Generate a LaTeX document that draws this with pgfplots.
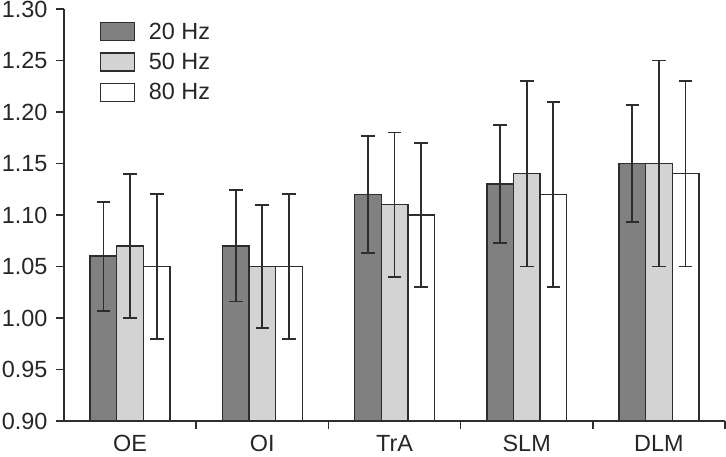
\documentclass[border=0pt]{standalone}
\usepackage{pgfplots}
\pgfplotsset{compat=1.18}
\usepackage{fontspec}
\setmainfont{Liberation Sans}
\definecolor{dark}{RGB}{128,128,128}
\definecolor{light}{RGB}{211,211,211}
\definecolor{edge}{RGB}{45,45,45}
\begin{document}
\begin{tikzpicture}
\begin{axis}[
  name=ax,
  scale only axis,
  width=661bp, height=412bp,
  xmin=0.5, xmax=5.5,
  ymin=0.9, ymax=1.3,
  ytick={0.90,0.95,...,1.31},
  xtick={1,2,3,4,5},
  xticklabels={OE,OI,TrA,SLM,DLM},
  minor xtick={1.5,2.5,3.5,4.5,5.5},
  major x tick style={draw=none},
  tick align=outside,
  major tick length=8bp,
  minor tick length=8bp,
  axis lines*=left,
  axis line style={edge, line width=1.4bp},
  every tick/.style={edge, line width=1.4bp},
  minor x tick style={edge, line width=1.4bp},
  /pgf/number format/assume math mode=true,
  /pgf/number format/.cd, fixed, fixed zerofill, precision=2, /pgfplots/.cd,
  tick label style={font=\fontsize{23.5}{26}\selectfont, text=black!85},
  yticklabel style={xshift=-5bp},
  xticklabel style={yshift=-3bp},
  ybar=0pt,
  bar width=26.6bp,
  legend style={draw=none, fill=none, at={(0.049,0.977)}, anchor=north west,
    font=\fontsize{23.5}{26}\selectfont, text=black!85, row sep=8.5bp,
    column sep=12bp, nodes={inner sep=2bp}},
  legend cell align=left,
  legend image code/.code={\draw[#1, draw=edge, line width=1.4bp] (0bp,-9bp) rectangle (34bp,9bp);},
  every axis plot/.append style={draw=edge, line width=1.4bp,
    error bars/y dir=both, error bars/y explicit,
    error bars/error bar style={edge, line width=1.8bp},
    error bars/error mark options={rotate=90, mark size=6.8bp, edge, line width=1.8bp}},
]
\addplot[fill=dark] coordinates {
  (1,1.06) +- (0,0.053)
  (2,1.07) +- (0,0.054)
  (3,1.12) +- (0,0.057)
  (4,1.13) +- (0,0.057)
  (5,1.15) +- (0,0.057)
};
\addplot[fill=light] coordinates {
  (1,1.07) +- (0,0.07)
  (2,1.05) +- (0,0.06)
  (3,1.11) +- (0,0.07)
  (4,1.14) +- (0,0.09)
  (5,1.15) +- (0,0.10)
};
\addplot[fill=white] coordinates {
  (1,1.05) +- (0,0.07)
  (2,1.05) +- (0,0.07)
  (3,1.10) +- (0,0.07)
  (4,1.12) +- (0,0.09)
  (5,1.14) +- (0,0.09)
};
\legend{20 Hz,50 Hz,80 Hz}
\end{axis}
\pgfresetboundingbox
\path[use as bounding box] (ax.south west) ++(-64bp,-36bp) rectangle ++(726bp,457bp);
\end{tikzpicture}
\end{document}
